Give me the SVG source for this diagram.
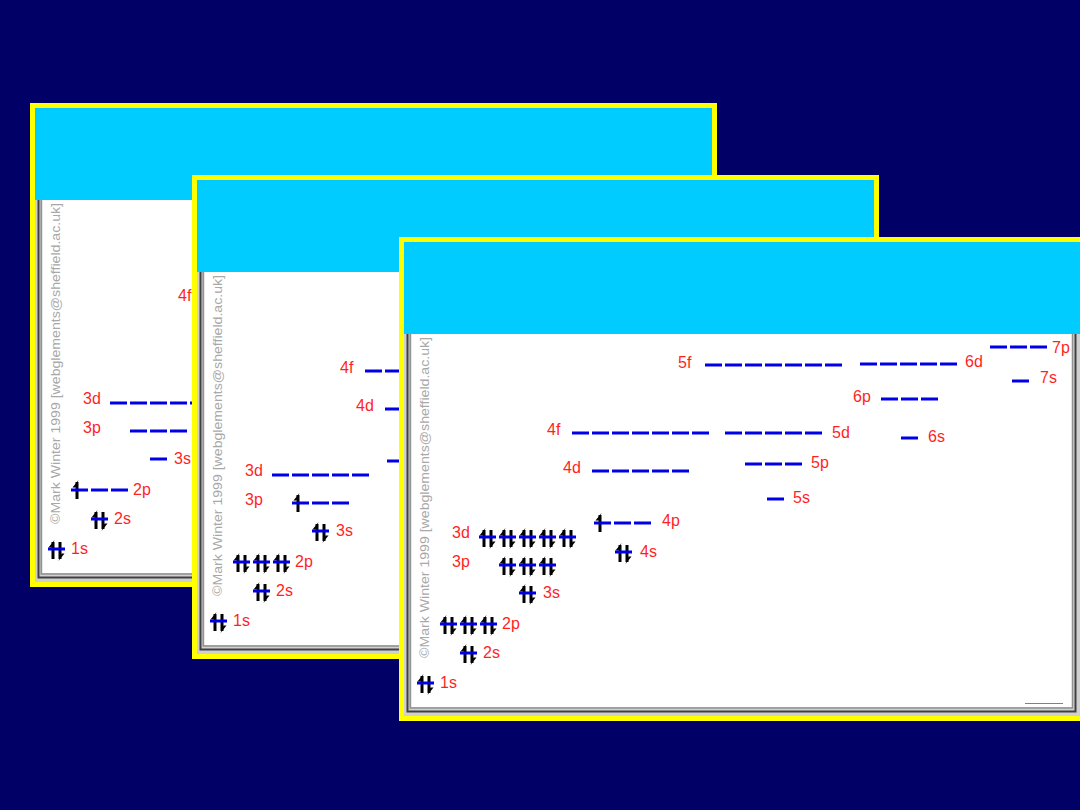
<svg xmlns="http://www.w3.org/2000/svg" xmlns:xlink="http://www.w3.org/1999/xlink" width="1080" height="810" viewBox="0 0 1080 810">
<style>
.lbl{font-family:"Liberation Sans",Arial,sans-serif;font-size:16px;fill:#ff1f1f}
.cr{font-family:"Liberation Sans",Arial,sans-serif;font-size:12.5px;fill:#a8a8a8}
.dk{stroke:#404040;stroke-width:2;fill:none}
.md{stroke:#909090;stroke-width:1.5;fill:none}
</style>
<defs>
<rect id="s" x="0" y="-1.5" width="17" height="3" fill="#0000e8"/>
<g id="pr">
<rect x="3.5" y="-7" width="3" height="17" fill="#000"/>
<polygon points="6.5,-9 0.5,-1.5 3.5,-1.5" fill="#000"/>
<rect x="10.5" y="-7" width="3" height="17" fill="#000"/>
<polygon points="10.5,12 16.5,4.5 13.5,4.5" fill="#000"/>
<use href="#s"/>
</g>
<g id="up">
<rect x="4.5" y="-8" width="3" height="17" fill="#000"/>
<polygon points="7.5,-10 1.5,-2.5 4.5,-2.5" fill="#000"/>
<use href="#s"/>
</g>
<g id="frame">
<rect width="687" height="484" fill="#ffff00"/>
<rect x="5" y="5" width="677" height="474" fill="#d0d0d0"/>
<rect x="5" y="5" width="677" height="92" fill="#00ccff"/>
<path class="dk" d="M8.5 97V474.5H676.5V97"/>
<path class="md" d="M11.2 97V471H673.5V97"/>
<rect x="12.5" y="97" width="660" height="373" fill="#ffffff"/>
</g>
</defs>
<rect width="1080" height="810" fill="#000066"/>

<g id="panel1" transform="translate(30,103)">
<use href="#frame"/>
<text class="cr" transform="translate(29.5,421) rotate(-90)" textLength="321" lengthAdjust="spacingAndGlyphs">©Mark Winter 1999 [webglements@sheffield.ac.uk]</text>
<g id="p1-1s"><use href="#pr" x="18" y="446"/><text class="lbl" x="41" y="451">1s</text></g>
<g id="p1-2s"><use href="#pr" x="61" y="416"/><text class="lbl" x="84" y="421">2s</text></g>
<g id="p1-2p"><use href="#up" x="41" y="387"/><use href="#s" x="61" y="387"/><use href="#s" x="81" y="387"/><text class="lbl" x="103" y="392">2p</text></g>
<g id="p1-3s"><use href="#s" x="120" y="356"/><text class="lbl" x="144" y="361">3s</text></g>
<g id="p1-3p"><use href="#s" x="100" y="328"/><use href="#s" x="120" y="328"/><use href="#s" x="140" y="328"/><text class="lbl" x="53" y="330">3p</text></g>
<g id="p1-3d"><use href="#s" x="80" y="300"/><use href="#s" x="100" y="300"/><use href="#s" x="120" y="300"/><use href="#s" x="140" y="300"/><use href="#s" x="160" y="300"/><text class="lbl" x="53" y="301">3d</text></g>
<g id="p1-4f"><use href="#s" x="173" y="196"/><text class="lbl" x="148" y="198">4f</text></g>
</g>

<g id="panel2" transform="translate(192,175)">
<use href="#frame"/>
<text class="cr" transform="translate(29.5,421) rotate(-90)" textLength="321" lengthAdjust="spacingAndGlyphs">©Mark Winter 1999 [webglements@sheffield.ac.uk]</text>
<g id="p2-1s"><use href="#pr" x="18" y="446"/><text class="lbl" x="41" y="451">1s</text></g>
<g id="p2-2s"><use href="#pr" x="61" y="416"/><text class="lbl" x="84" y="421">2s</text></g>
<g id="p2-2p"><use href="#pr" x="41" y="387"/><use href="#pr" x="61" y="387"/><use href="#pr" x="81" y="387"/><text class="lbl" x="103" y="392">2p</text></g>
<g id="p2-3s"><use href="#pr" x="120" y="356"/><text class="lbl" x="144" y="361">3s</text></g>
<g id="p2-3p"><use href="#up" x="100" y="328"/><use href="#s" x="120" y="328"/><use href="#s" x="140" y="328"/><text class="lbl" x="53" y="330">3p</text></g>
<g id="p2-3d"><use href="#s" x="80" y="300"/><use href="#s" x="100" y="300"/><use href="#s" x="120" y="300"/><use href="#s" x="140" y="300"/><use href="#s" x="160" y="300"/><text class="lbl" x="53" y="301">3d</text></g>
<g id="p2-4p"><use href="#s" x="195" y="286"/></g>
<g id="p2-4d"><use href="#s" x="193" y="234"/><text class="lbl" x="164" y="236">4d</text></g>
<g id="p2-4f"><use href="#s" x="173" y="196"/><use href="#s" x="193" y="196"/><text class="lbl" x="148" y="198">4f</text></g>
</g>

<g id="panel3" transform="translate(399,237)">
<use href="#frame"/>
<line x1="626" y1="466.5" x2="664" y2="466.5" stroke="#5a9a5a" stroke-width="1"/>
<text class="cr" transform="translate(29.5,421) rotate(-90)" textLength="321" lengthAdjust="spacingAndGlyphs">©Mark Winter 1999 [webglements@sheffield.ac.uk]</text>
<g id="p3-1s"><use href="#pr" x="18" y="446"/><text class="lbl" x="41" y="451">1s</text></g>
<g id="p3-2s"><use href="#pr" x="61" y="416"/><text class="lbl" x="84" y="421">2s</text></g>
<g id="p3-2p"><use href="#pr" x="41" y="387"/><use href="#pr" x="61" y="387"/><use href="#pr" x="81" y="387"/><text class="lbl" x="103" y="392">2p</text></g>
<g id="p3-3s"><use href="#pr" x="120" y="356"/><text class="lbl" x="144" y="361">3s</text></g>
<g id="p3-3p"><use href="#pr" x="100" y="328"/><use href="#pr" x="120" y="328"/><use href="#pr" x="140" y="328"/><text class="lbl" x="53" y="330">3p</text></g>
<g id="p3-3d"><use href="#pr" x="80" y="300"/><use href="#pr" x="100" y="300"/><use href="#pr" x="120" y="300"/><use href="#pr" x="140" y="300"/><use href="#pr" x="160" y="300"/><text class="lbl" x="53" y="301">3d</text></g>
<g id="p3-4s"><use href="#pr" x="216" y="315"/><text class="lbl" x="241" y="320">4s</text></g>
<g id="p3-4p"><use href="#up" x="195" y="286"/><use href="#s" x="215" y="286"/><use href="#s" x="235" y="286"/><text class="lbl" x="263" y="289">4p</text></g>
<g id="p3-4d"><use href="#s" x="193" y="234"/><use href="#s" x="213" y="234"/><use href="#s" x="233" y="234"/><use href="#s" x="253" y="234"/><use href="#s" x="273" y="234"/><text class="lbl" x="164" y="236">4d</text></g>
<g id="p3-4f"><use href="#s" x="173" y="196"/><use href="#s" x="193" y="196"/><use href="#s" x="213" y="196"/><use href="#s" x="233" y="196"/><use href="#s" x="253" y="196"/><use href="#s" x="273" y="196"/><use href="#s" x="293" y="196"/><text class="lbl" x="148" y="198">4f</text></g>
<g id="p3-5s"><use href="#s" x="368" y="262"/><text class="lbl" x="394" y="266">5s</text></g>
<g id="p3-5p"><use href="#s" x="346" y="227"/><use href="#s" x="366" y="227"/><use href="#s" x="386" y="227"/><text class="lbl" x="412" y="231">5p</text></g>
<g id="p3-5d"><use href="#s" x="326" y="196"/><use href="#s" x="346" y="196"/><use href="#s" x="366" y="196"/><use href="#s" x="386" y="196"/><use href="#s" x="406" y="196"/><text class="lbl" x="433" y="201">5d</text></g>
<g id="p3-5f"><use href="#s" x="306" y="128"/><use href="#s" x="326" y="128"/><use href="#s" x="346" y="128"/><use href="#s" x="366" y="128"/><use href="#s" x="386" y="128"/><use href="#s" x="406" y="128"/><use href="#s" x="426" y="128"/><text class="lbl" x="279" y="131">5f</text></g>
<g id="p3-6s"><use href="#s" x="502" y="201"/><text class="lbl" x="529" y="205">6s</text></g>
<g id="p3-6p"><use href="#s" x="482" y="162"/><use href="#s" x="502" y="162"/><use href="#s" x="522" y="162"/><text class="lbl" x="454" y="165">6p</text></g>
<g id="p3-6d"><use href="#s" x="461" y="127"/><use href="#s" x="481" y="127"/><use href="#s" x="501" y="127"/><use href="#s" x="521" y="127"/><use href="#s" x="541" y="127"/><text class="lbl" x="566" y="130">6d</text></g>
<g id="p3-7s"><use href="#s" x="613" y="144"/><text class="lbl" x="641" y="146">7s</text></g>
<g id="p3-7p"><use href="#s" x="591" y="110"/><use href="#s" x="611" y="110"/><use href="#s" x="631" y="110"/><text class="lbl" x="653" y="116">7p</text></g>
</g>
<g id="connectors"/>
</svg>
